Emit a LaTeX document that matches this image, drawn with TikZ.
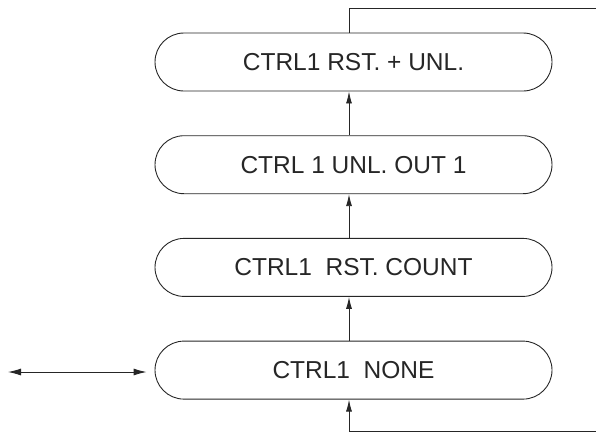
\documentclass[tikz,border=0pt]{standalone}
\usepackage{fontspec}
\setmainfont{Liberation Sans}
\usepackage{tikz}
\usetikzlibrary{positioning,
           arrows.meta}

\tikzset{etat/.style={draw, rounded corners=29pt, minimum width=397pt, minimum height=58pt,
                      inner sep=0pt, align=center, font=\fontsize{24.5}{28}\selectfont},
         fl/.style={-{Latex[length=12pt,width=6pt]}}}

\begin{document}
\begin{tikzpicture}[x=1pt, y=-1pt, line width=0.9pt, color=black!85, node distance=43.8pt]
\useasboundingbox (0,0) rectangle (596,432);
\node[etat](R)at(353.5,62){CTRL1 RST. + UNL.};
\node[etat, below=of R](U){CTRL 1 UNL. OUT 1};
\node[etat, below=of U](C){CTRL1\ \ RST. COUNT};
\node[etat, below=of C](N){CTRL1\ \ NONE};
\draw[fl]([xshift=-4.5pt]N.north)--([xshift=-4.5pt]C.south);
\draw[fl]([xshift=-4.5pt]C.north)--([xshift=-4.5pt]U.south);
\draw[fl]([xshift=-4.5pt]U.north)--([xshift=-4.5pt]R.south);
% boucle de retour
\coordinate(H)at(596,8);
\coordinate(B)at(596,431);
\draw([xshift=-4.5pt]R.north)|-(H);
\draw[fl](B)-|([xshift=-4.5pt]N.south);
% entree / sortie
\coordinate(G)at(8,372);
\draw[{Latex[length=13pt,width=7pt]}-{Latex[length=13pt,width=7pt]}](G)--([xshift=-8pt]G-|N.west);
\end{tikzpicture}
\end{document}
